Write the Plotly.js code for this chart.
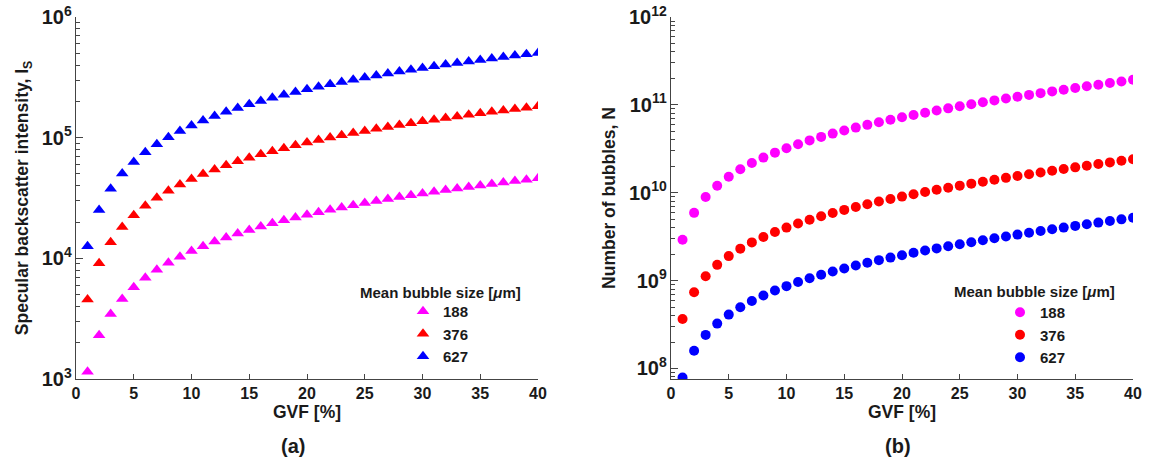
<!DOCTYPE html>
<html>
<head>
<meta charset="utf-8">
<script src="https://cdn.plot.ly/plotly-3.0.1.min.js"></script>
<style>html,body{margin:0;padding:0;background:#fff;}#chart{width:1157px;height:466px;}</style>
</head>
<body>
<div id="chart"></div>
<script>
// GVF values [%]
var gvf = [1,2,3,4,5,6,7,8,9,10,11,12,13,14,15,16,17,18,19,20,21,22,23,24,25,26,27,28,29,30,31,32,33,34,35,36,37,38,39,40];

// Legend labels (mean bubble size, um)
var sizeLabels = ['188', '376', '627'];

// (a) Specular backscatter intensity, I_S
var is188 = [1150,2300,3450,4600,5750,6900,8050,9200,10300,11500,12600,13800,14900,16100,17200,18400,19500,20700,21800,23000,24100,25300,26400,27600,28700,29900,31000,32200,33300,34500,35600,36800,37900,39100,40200,41400,42500,43700,44800,46000];
var is376 = [4550,9100,13600,18200,22700,27300,31800,36400,40900,45500,50000,54600,59100,63700,68200,72800,77300,81900,86400,91000,95500,100100,104600,109200,113700,118300,122800,127400,131900,136500,141000,145600,150100,154700,159200,163800,168300,172900,177400,182000];
var is627 = [12600,25200,37800,50400,63000,75600,88200,100800,113400,126000,138600,151200,163800,176400,189000,201600,214200,226800,239400,252000,264600,277200,289800,302400,315000,327600,340200,352800,365400,378000,390600,403200,415800,428400,441000,453600,466200,478800,491400,504000];

// (b) Number of bubbles, N
var n188 = [2.92e9,5.90e9,8.94e9,1.20e10,1.52e10,1.85e10,2.18e10,2.51e10,2.86e10,3.21e10,3.57e10,3.94e10,4.32e10,4.71e10,5.10e10,5.51e10,5.92e10,6.34e10,6.78e10,7.23e10,7.68e10,8.15e10,8.63e10,9.13e10,9.63e10,1.015e11,1.069e11,1.124e11,1.180e11,1.239e11,1.298e11,1.360e11,1.423e11,1.489e11,1.556e11,1.626e11,1.697e11,1.771e11,1.848e11,1.927e11];
var n376 = [3.65e8,7.38e8,1.12e9,1.51e9,1.90e9,2.31e9,2.72e9,3.14e9,3.57e9,4.01e9,4.47e9,4.93e9,5.40e9,5.88e9,6.38e9,6.88e9,7.40e9,7.93e9,8.47e9,9.03e9,9.60e9,1.019e10,1.079e10,1.141e10,1.204e10,1.269e10,1.336e10,1.405e10,1.476e10,1.548e10,1.623e10,1.700e10,1.779e10,1.861e10,1.945e10,2.032e10,2.122e10,2.214e10,2.310e10,2.408e10];
var n627 = [7.87e7,1.59e8,2.41e8,3.24e8,4.10e8,4.97e8,5.86e8,6.77e8,7.70e8,8.65e8,9.62e8,1.062e9,1.163e9,1.267e9,1.374e9,1.483e9,1.595e9,1.709e9,1.826e9,1.946e9,2.070e9,2.196e9,2.326e9,2.459e9,2.595e9,2.736e9,2.880e9,3.028e9,3.180e9,3.337e9,3.498e9,3.664e9,3.835e9,4.011e9,4.192e9,4.379e9,4.572e9,4.772e9,4.978e9,5.191e9];

var colors = ['#FF00FF', '#FF0000', '#0000FF'];
var FONT = 'Arial, "Liberation Sans", sans-serif';

var traces = [];
[is188, is376, is627].forEach(function (ys, i) {
  traces.push({
    x: gvf, y: ys, type: 'scatter', mode: 'markers', name: sizeLabels[i],
    xaxis: 'x', yaxis: 'y', legend: 'legend',
    marker: {symbol: 'triangle-up', size: 11, color: colors[i]}
  });
});
[n188, n376, n627].forEach(function (ys, i) {
  traces.push({
    x: gvf, y: ys, type: 'scatter', mode: 'markers', name: sizeLabels[i],
    xaxis: 'x2', yaxis: 'y2', legend: 'legend2',
    marker: {symbol: 'circle', size: 10, color: colors[i]}
  });
});

var W = 1157, H = 466;
var yDom = [1 - 379 / H, 1 - 17 / H];
var axisColor = '#444444';
var tickFont = {family: FONT, size: 16, color: '#1a1a1a', weight: 'bold'};
var titleFont = {family: FONT, size: 17.5, color: '#1a1a1a', weight: 'bold'};

function xAxis(dom, anchor) {
  return {
    domain: dom, anchor: anchor, range: [0, 40], dtick: 5, tick0: 0,
    showline: true, linecolor: axisColor, linewidth: 1, mirror: false,
    ticks: 'inside', ticklen: 5, tickcolor: axisColor, tickwidth: 1,
    showgrid: false, zeroline: false, tickfont: tickFont,
    title: {text: 'GVF [%]', font: titleFont, standoff: 4}
  };
}
function yAxis(range, anchor, title) {
  return {
    domain: yDom, anchor: anchor, type: 'log', range: range, dtick: 1,
    exponentformat: 'power', showexponent: 'all',
    showline: true, linecolor: axisColor, linewidth: 1,
    ticks: 'inside', ticklen: 7, tickcolor: axisColor, tickwidth: 1,
    minor: {ticks: 'inside', ticklen: 4, tickcolor: axisColor, tickwidth: 1, dtick: 'D1', showgrid: false},
    showgrid: false, zeroline: false, tickfont: tickFont,
    title: {text: title, font: titleFont, standoff: 8}
  };
}

var legendFont = {family: FONT, size: 15, color: '#1a1a1a', weight: 'bold'};
var layout = {
  width: W, height: H,
  margin: {l: 0, r: 0, t: 0, b: 0},
  paper_bgcolor: '#ffffff', plot_bgcolor: '#ffffff',
  showlegend: true,
  xaxis: xAxis([76 / W, 538 / W], 'y'),
  yaxis: yAxis([3, 6], 'x', 'Specular backscatter intensity, I<sub>S</sub>'),
  xaxis2: xAxis([671 / W, 1133 / W], 'y2'),
  yaxis2: yAxis([7.88, 12], 'x2', 'Number of bubbles, N'),
  legend: {
    x: 403 / W, xanchor: 'left', y: 1 - 295 / H, yanchor: 'top',
    bgcolor: 'rgba(0,0,0,0)', font: legendFont, tracegroupgap: 0
  },
  legend2: {
    x: 1000 / W, xanchor: 'left', y: 1 - 296 / H, yanchor: 'top',
    bgcolor: 'rgba(0,0,0,0)', font: legendFont, tracegroupgap: 0
  },
  annotations: [
    {text: 'Mean bubble size [<i>μ</i>m]', xref: 'paper', yref: 'paper', x: 440 / W, y: 1 - 292 / H,
     xanchor: 'center', yanchor: 'middle', showarrow: false, font: legendFont},
    {text: 'Mean bubble size [<i>μ</i>m]', xref: 'paper', yref: 'paper', x: 1034 / W, y: 1 - 291 / H,
     xanchor: 'center', yanchor: 'middle', showarrow: false, font: legendFont},
    {text: '(a)', xref: 'paper', yref: 'paper', x: 293 / W, y: 1 - 446 / H,
     xanchor: 'center', yanchor: 'middle', showarrow: false,
     font: {family: FONT, size: 20, color: '#1a1a1a', weight: 'bold'}},
    {text: '(b)', xref: 'paper', yref: 'paper', x: 898 / W, y: 1 - 446 / H,
     xanchor: 'center', yanchor: 'middle', showarrow: false,
     font: {family: FONT, size: 20, color: '#1a1a1a', weight: 'bold'}}
  ]
};

Plotly.newPlot('chart', traces, layout, {displayModeBar: false, staticPlot: true});
</script>
</body>
</html>
